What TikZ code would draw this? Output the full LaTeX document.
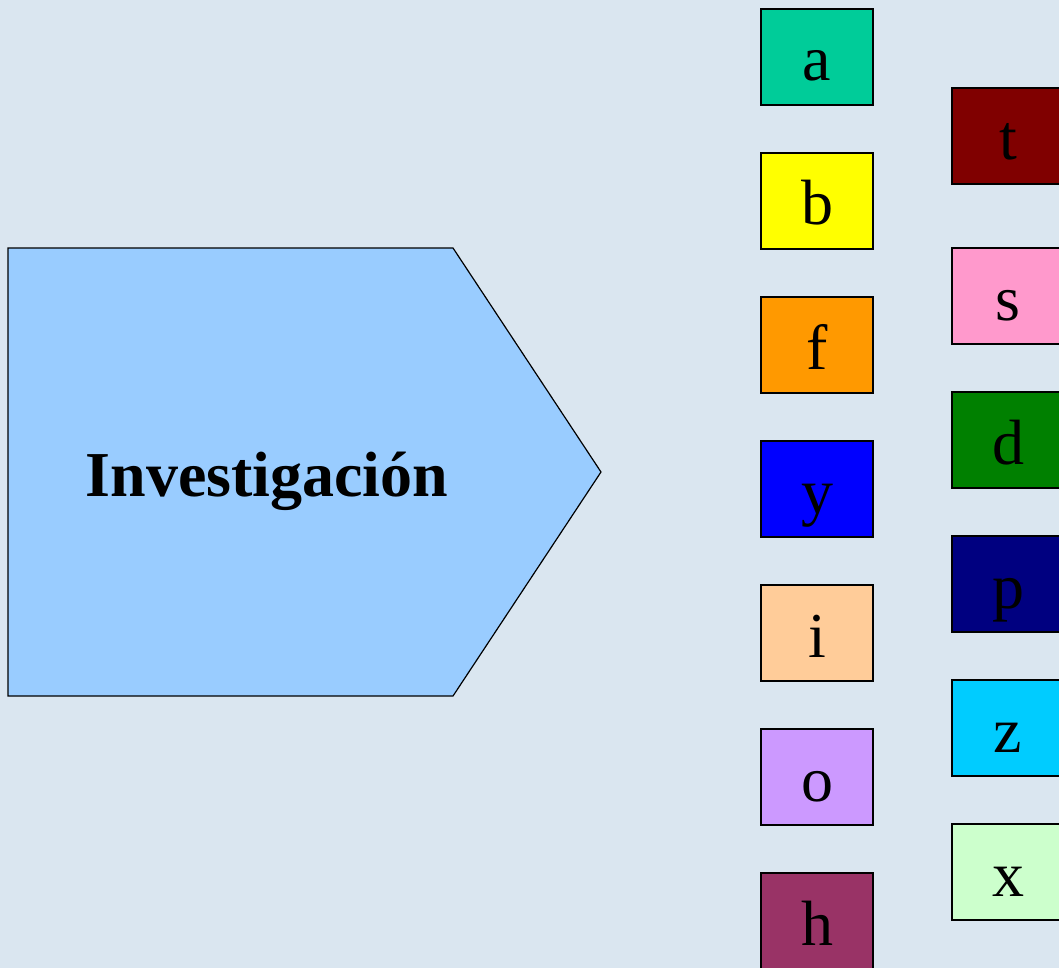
\documentclass[tikz,border=0pt]{standalone}
\usepackage{fontspec}
\setmainfont{Liberation Serif}
\usepackage{xcolor}
\definecolor{colorBack}{HTML}{DAE6F0}
\definecolor{colorStage}{HTML}{99CCFF}
\definecolor{colorA}{HTML}{00CC99}
\definecolor{colorB}{HTML}{FFFF00}
\definecolor{colorF}{HTML}{FF9900}
\definecolor{colorY}{HTML}{0000FF}
\definecolor{colorI}{HTML}{FFCC99}
\definecolor{colorO}{HTML}{CC99FF}
\definecolor{colorH}{HTML}{993366}
\definecolor{colorT}{HTML}{800000}
\definecolor{colorS}{HTML}{FF99CC}
\definecolor{colorD}{HTML}{008000}
\definecolor{colorP}{HTML}{000080}
\definecolor{colorZ}{HTML}{00CCFF}
\definecolor{colorX}{HTML}{CCFFCC}
\usetikzlibrary{positioning}
\tikzset{letterbox/.style={draw, line width=1.2pt, minimum width=112pt, inner sep=0pt, outer sep=0pt,
    text height=72pt, text depth=24pt, font=\fontsize{64}{64}\selectfont}}

\begin{document}
\begin{tikzpicture}[x=1pt, y=-1pt, node distance=48pt]
\useasboundingbox[fill=colorBack] (0,0) rectangle (1059,968);
% stage arrow
\draw[fill=colorStage, line width=1.2pt, line join=miter] (8,248) -- (453,248) -- (601,472) -- (453,696) -- (8,696) -- cycle;
\node[anchor=base, inner sep=0pt, font=\fontsize{64}{64}\selectfont\bfseries] (inv) at (267,496) {Investigación};
% left column
\node[letterbox, fill=colorA, anchor=north] (a) at (817,9) {a};
\node[letterbox, fill=colorB, below=of a] (b) {b};
\node[letterbox, fill=colorF, below=of b] (f) {f};
\node[letterbox, fill=colorY, below=of f] (y) {y};
\node[letterbox, fill=colorI, below=of y] (i) {i};
\node[letterbox, fill=colorO, below=of i] (o) {o};
\node[letterbox, fill=colorH, below=of o] (h) {h};
% right column
\node[letterbox, fill=colorT, anchor=north west] (t) at (952,88) {t};
\node[letterbox, fill=colorS, below=64pt of t] (s) {s};
\node[letterbox, fill=colorD, below=of s] (d) {d};
\node[letterbox, fill=colorP, below=of d] (p) {p};
\node[letterbox, fill=colorZ, below=of p] (z) {z};
\node[letterbox, fill=colorX, below=of z] (x) {x};
\end{tikzpicture}
\end{document}
